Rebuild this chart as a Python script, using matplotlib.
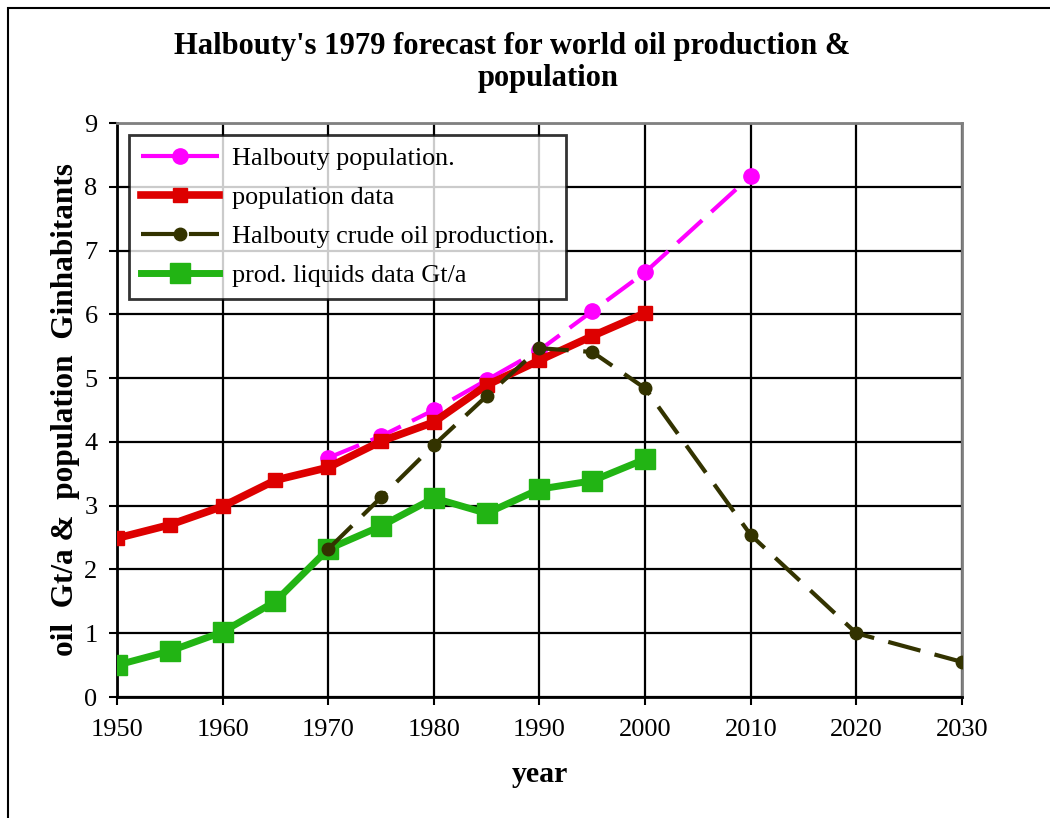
import matplotlib.pyplot as plt
from matplotlib.patches import Rectangle

plt.rcParams['font.family'] = ['Liberation Serif', 'DejaVu Serif']

# values
years_pop_forecast = [1970, 1975, 1980, 1985, 1990, 1995, 2000, 2010]
pop_forecast = [3.75, 4.09, 4.50, 4.97, 5.44, 6.05, 6.66, 8.17]

years_pop_data = [1950, 1955, 1960, 1965, 1970, 1975, 1980, 1985, 1990, 1995, 2000]
pop_data = [2.49, 2.70, 2.99, 3.40, 3.60, 4.01, 4.31, 4.89, 5.28, 5.66, 6.02]

years_oil_forecast = [1970, 1975, 1980, 1985, 1990, 1995, 2000, 2010, 2020, 2030]
oil_forecast = [2.32, 3.13, 3.95, 4.72, 5.47, 5.41, 4.84, 2.54, 1.00, 0.55]

years_liquids = [1950, 1955, 1960, 1965, 1970, 1975, 1980, 1985, 1990, 1995, 2000]
liquids = [0.50, 0.72, 1.02, 1.50, 2.32, 2.68, 3.12, 2.88, 3.26, 3.39, 3.73]

fig = plt.figure(figsize=(10.5, 8.18), dpi=100)
ax = fig.add_axes([0.1114, 0.1479, 0.8048, 0.7017])

ax.plot(years_pop_forecast, pop_forecast, color='#ff00ff', lw=3, dashes=(8, 3),
        marker='o', ms=11, label='Halbouty population.', zorder=3)
ax.plot(years_pop_data, pop_data, color='#dd0000', lw=5.5, marker='s', ms=10,
        label='population data', zorder=4)
ax.plot(years_oil_forecast, oil_forecast, color='#333300', lw=3, dashes=(8, 3.5),
        marker='o', ms=9, label='Halbouty crude oil production.', zorder=5)
ax.plot(years_liquids, liquids, color='#22b414', lw=5, marker='s', ms=15,
        label='prod. liquids data Gt/a', zorder=4)

ax.set_xlim(1950, 2030)
ax.set_ylim(0, 9)
ax.set_xticks(range(1950, 2031, 10))
ax.set_yticks(range(0, 10))
ax.grid(True, color='black', lw=1.6, zorder=0)
ax.set_axisbelow(True)
ax.tick_params(labelsize=19, direction='out', length=6, width=1.5, colors='black')
ax.tick_params(axis='x', pad=10)
ax.tick_params(axis='y', pad=8)
for s in ['top', 'right']:
    ax.spines[s].set_color('#808080')
    ax.spines[s].set_linewidth(2)
for s in ['left', 'bottom']:
    ax.spines[s].set_linewidth(2)

ax.set_xlabel('year', fontsize=21.5, fontweight='bold', labelpad=14)
ax.set_ylabel('oil  Gt/a &  population  Ginhabitants', fontsize=22.5,
              fontweight='bold', labelpad=3)

leg = ax.legend(loc='upper left', bbox_to_anchor=(0.014, 0.979), fontsize=18.8,
                frameon=True, fancybox=False, edgecolor='black', handlelength=3.0,
                handletextpad=0.5, borderpad=0.45, labelspacing=0.6, borderaxespad=0)
leg.get_frame().set_linewidth(2)

fig.text(0.488, 0.943, "Halbouty's 1979 forecast for world oil production &",
         ha='center', va='center', fontsize=22, fontweight='bold')
fig.text(0.522, 0.904, "population", ha='center', va='center', fontsize=22,
         fontweight='bold')

# outer chart frame (cropped at right and bottom in the original)
fig.patches.append(Rectangle((8 / 1050, -0.05), 1.2, 1 - 8 / 818 + 0.05,
                             transform=fig.transFigure, fill=False,
                             edgecolor='black', lw=1.5))

fig.savefig('out.png', dpi=100)
